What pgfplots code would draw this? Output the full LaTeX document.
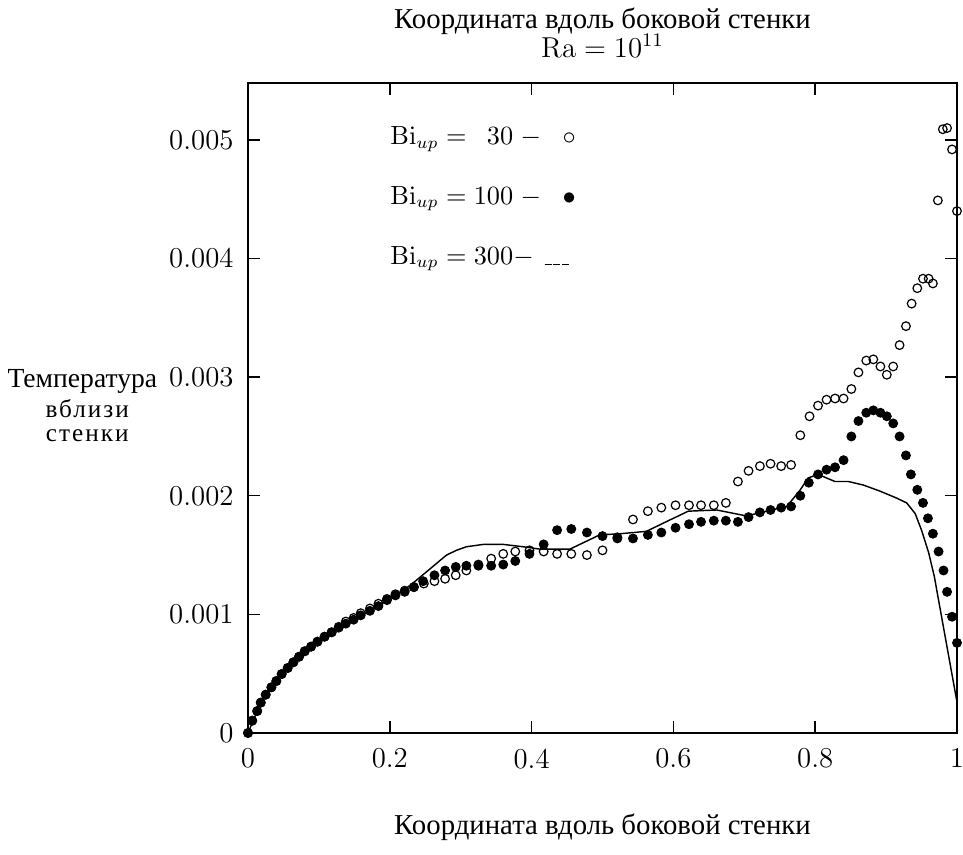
\documentclass[border=0pt]{standalone}
\usepackage[no-math]{fontspec}
\usepackage{pgfplots}
\pgfplotsset{compat=1.18}
\usetikzlibrary{calc}
\newfontfamily\cyr{Liberation Serif}
\newfontfamily\cyrwide[LetterSpace=8]{Liberation Serif}
\newcommand{\cyrtext}{\cyr\fontsize{12}{14}\selectfont}
\newcommand{\cyrmid}{\cyr\fontsize{11.5}{13.5}\selectfont}
\newcommand{\cyrsmall}{\cyrwide\fontsize{10.5}{12}\selectfont}

\pgfplotstableread{
x y
0 0
0.006 0.000104
0.013 0.000185
0.018 0.000256
0.025 0.000323
0.033 0.000385
0.040 0.000438
0.0475 0.000497
0.056 0.000548
0.064 0.000596
0.072 0.000643
0.080 0.000689
0.089 0.000728
0.098 0.000770
0.108 0.000812
0.118 0.000849
0.128 0.000895
0.138 0.000940
0.149 0.000970
0.159 0.00101
0.172 0.00105
0.184 0.00109
0.196 0.00113
0.208 0.00117
0.221 0.00120
0.234 0.00123
0.248 0.00126
0.263 0.00128
0.278 0.00130
0.293 0.00133
0.308 0.00137
0.325 0.00142
0.343 0.00147
0.360 0.00151
0.377 0.00153
0.397 0.00154
0.417 0.00153
0.436 0.00151
0.456 0.00151
0.478 0.00150
0.500 0.00154
0.521 0.00165
0.543 0.00180
0.564 0.00187
0.583 0.00190
0.603 0.00192
0.622 0.00192
0.639 0.00192
0.657 0.00192
0.674 0.00194
0.691 0.00212
0.706 0.00221
0.722 0.00225
0.737 0.00227
0.752 0.00225
0.766 0.00226
0.779 0.00251
0.792 0.00267
0.804 0.00276
0.816 0.00281
0.828 0.00282
0.840 0.00282
0.851 0.00290
0.861 0.00304
0.872 0.00314
0.882 0.00315
0.892 0.00309
0.901 0.00302
0.910 0.00309
0.919 0.00327
0.928 0.00343
0.936 0.00362
0.944 0.00375
0.952 0.00383
0.960 0.00383
0.966 0.00379
0.973 0.00449
0.980 0.00509
0.986 0.00510
0.993 0.00492
1.0 0.00440
}\biA

\pgfplotstableread{
x y
0 0
0.006 0.000104
0.013 0.000185
0.018 0.000256
0.025 0.000323
0.033 0.000385
0.040 0.000438
0.0475 0.000497
0.056 0.000548
0.064 0.000596
0.072 0.000643
0.080 0.000689
0.089 0.000728
0.098 0.000770
0.108 0.000812
0.118 0.000849
0.128 0.000888
0.138 0.000922
0.149 0.000955
0.159 0.000992
0.172 0.00103
0.184 0.00107
0.196 0.00112
0.208 0.00116
0.221 0.00119
0.234 0.00123
0.247 0.00128
0.263 0.00133
0.278 0.00137
0.293 0.00140
0.308 0.00141
0.325 0.00141
0.343 0.00141
0.360 0.00142
0.377 0.00145
0.397 0.00151
0.417 0.00159
0.436 0.00171
0.456 0.00172
0.478 0.00169
0.500 0.00166
0.521 0.00164
0.543 0.00164
0.564 0.00167
0.583 0.00169
0.603 0.00173
0.622 0.00176
0.639 0.00178
0.657 0.00179
0.674 0.00179
0.691 0.00178
0.706 0.00182
0.722 0.00186
0.737 0.00188
0.752 0.00190
0.766 0.00191
0.779 0.00200
0.791 0.00211
0.804 0.00218
0.816 0.00222
0.828 0.00224
0.840 0.00230
0.851 0.00250
0.861 0.00263
0.872 0.00270
0.882 0.00272
0.892 0.00270
0.901 0.00267
0.910 0.00261
0.919 0.00250
0.928 0.00234
0.935 0.00218
0.944 0.00205
0.952 0.00194
0.959 0.00181
0.966 0.00168
0.974 0.00153
0.981 0.00137
0.986 0.00119
0.993 0.00098
1.0 0.00076
}\biB

\pgfplotstableread{
x y
0 0
0.013 0.000185
0.025 0.000323
0.040 0.000438
0.056 0.000548
0.072 0.000643
0.089 0.000728
0.108 0.000812
0.128 0.000888
0.149 0.000955
0.172 0.00103
0.196 0.00112
0.221 0.00121
0.236 0.00128
0.252 0.00136
0.266 0.00143
0.280 0.00150
0.294 0.00154
0.308 0.00157
0.332 0.00159
0.360 0.00159
0.388 0.00157
0.412 0.00155
0.454 0.00155
0.496 0.00167
0.525 0.00168
0.562 0.00170
0.586 0.00177
0.621 0.00187
0.661 0.00188
0.703 0.00183
0.760 0.00191
0.779 0.00205
0.790 0.00215
0.804 0.00218
0.812 0.00216
0.828 0.00212
0.847 0.00212
0.868 0.00209
0.891 0.00204
0.915 0.00198
0.929 0.00194
0.941 0.00185
0.950 0.00171
0.960 0.00152
0.968 0.00132
0.974 0.00112
1.0 0.00026
}\biC

\begin{document}
\begin{tikzpicture}
\begin{axis}[
  scale only axis,
  width=295.42pt, height=270.83pt,
  xmin=0, xmax=1, ymin=0, ymax=0.00548,
  xtick={0,0.2,0.4,0.6,0.8,1},
  xticklabels={0,0.2,0.4,0.6,0.8,1},
  ytick={0,0.001,0.002,0.003,0.004,0.005},
  yticklabels={0,0.001,0.002,0.003,0.004,0.005},
  scaled y ticks=false, scaled x ticks=false,
  tick align=inside, major tick length=5pt,
  every tick/.style={black, line width=0.6pt},
  axis line style={line width=0.6pt},
  ticklabel style={font=\fontsize{12}{14}\selectfont},
  xticklabel style={yshift=-3pt},
  yticklabel style={xshift=-2.5pt},
  clip=false,
]
\addplot[only marks, mark=o, mark size=1.8pt, mark options={line width=0.5pt, black}] table {\biA};
\addplot[only marks, mark=*, mark size=1.85pt, black] table {\biB};
\addplot[black, line width=0.6pt, no marks] table {\biC};

\coordinate (SW) at (rel axis cs:0,0);
\coordinate (NE) at (rel axis cs:1,1);

\node[anchor=base, inner sep=0pt] at (axis description cs:0.5,1) [yshift=22.9pt] {\cyrtext Координата вдоль боковой стенки};
\node[anchor=base, inner sep=0pt, font=\fontsize{11.5}{13.5}\selectfont] at (axis description cs:0.5,1) [yshift=10.8pt] {$\mathrm{Ra} = 10^{11}$};
\node[anchor=base, inner sep=0pt] at (axis description cs:0.5,0) [yshift=-42.5pt] {\cyrtext Координата вдоль боковой стенки};

\node[anchor=base, inner sep=0pt] at (axis description cs:0,0.5308) [xshift=-69pt] {\cyrmid Температура};
\node[anchor=base, inner sep=0pt] at (axis description cs:0,0.4846) [xshift=-67pt] {\cyrsmall вблизи};
\node[anchor=base, inner sep=0pt] at (axis description cs:0,0.4492) [xshift=-67pt] {\cyrsmall стенки};

\node[anchor=base west, inner sep=0pt, font=\fontsize{10.5}{12.5}\selectfont] at (axis description cs:0.2003,0.9046) {$\mathrm{Bi}_{up} = \hphantom{1}30\;-$\hspace{9pt}$\circ$};
\node[anchor=base west, inner sep=0pt, font=\fontsize{10.5}{12.5}\selectfont] at (axis description cs:0.2003,0.8138) {$\mathrm{Bi}_{up} = 100\;-$\hspace{9pt}$\bullet$};
\node[anchor=base west, inner sep=0pt, font=\fontsize{10.5}{12.5}\selectfont] at (axis description cs:0.2003,0.7215) {$\mathrm{Bi}_{up} = 300-$\hspace{4.5pt}\rule[-0.5pt]{3pt}{0.5pt}\hspace{0.6pt}\rule[-0.5pt]{3pt}{0.5pt}\hspace{0.6pt}\rule[-0.5pt]{3pt}{0.5pt}};
\end{axis}
\pgfresetboundingbox
\useasboundingbox ($(SW)+(-103.33pt,-50.83pt)$) rectangle ($(NE)+(2.5pt,34.58pt)$);
\end{tikzpicture}
\end{document}
